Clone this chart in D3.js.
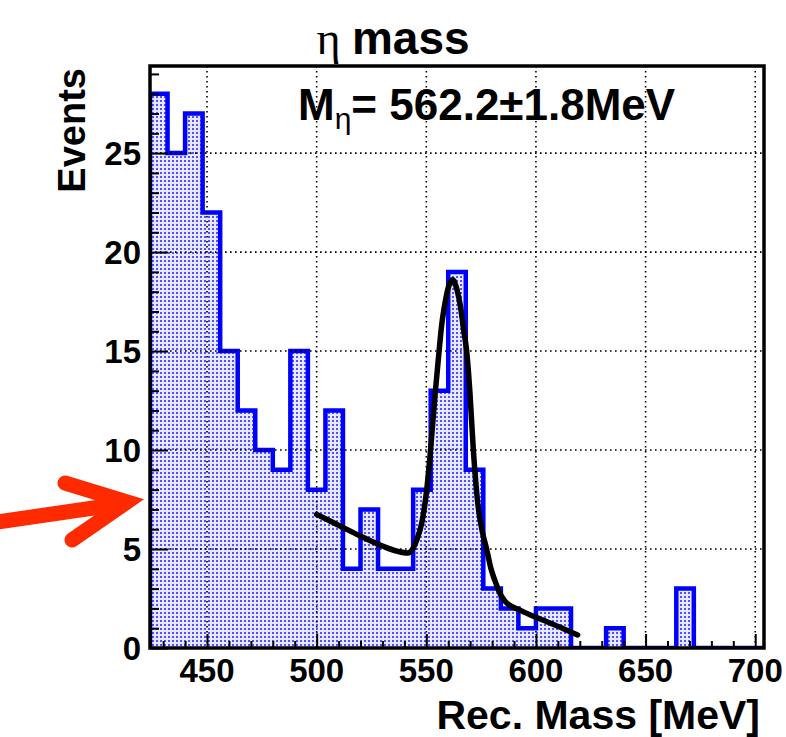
<!DOCTYPE html>
<html>
<head>
<meta charset="utf-8">
<script src="https://cdn.jsdelivr.net/npm/d3@7"></script>
<style>
  html, body { margin: 0; padding: 0; background: #ffffff; }
  svg { display: block; }
  text { font-family: "Liberation Sans", Arial, Helvetica, sans-serif; }
</style>
</head>
<body>
<svg id="chart" width="786" height="737"></svg>
<script>
// Reconstructed invariant mass spectrum: 8 MeV bins from 424 to 704 MeV
const massRange = [424, 704];
const binWidth = 8;
const binCounts = [28, 25, 27, 22, 15, 12, 10, 9, 15, 8, 12, 4, 7, 4, 4, 8, 13, 19, 9, 3,
                   2, 1, 2, 2, 0, 0, 1, 0, 0, 0, 3, 0, 0, 0, 0];

// Fitted peak + background curve (mass in MeV, events)
const fitMass   = [500, 510, 520, 530, 537, 541.5, 544, 545.6, 547.9, 550.2, 551.7, 554, 555.5, 557, 558.5,
                   560, 562, 564, 565.5, 567, 568.4, 569.9, 571.4, 573.7, 575.5, 577.5, 579.5, 581.3, 583.6,
                   586, 593, 600, 605, 612, 619];
const fitEvents = [6.75, 6.2, 5.65, 5.15, 4.88, 4.8, 5.05, 5.45, 6.3, 8.0, 9.7, 12.8, 14.6, 16.3, 17.4,
                   18.2, 18.6, 18.1, 17.3, 16.1, 15.0, 12.9, 10.1, 7.1, 5.9, 5.0, 4.0, 3.4, 2.75,
                   2.35, 1.9, 1.55, 1.33, 1.0, 0.66];

const xMajorTicks = [450, 500, 550, 600, 650, 700];
const yMajorTicks = [0, 5, 10, 15, 20, 25];
const yMax = 29.4;

const titleText = "mass";
const xTitle = "Rec. Mass [MeV]";
const yTitle = "Events";
const fitLabelParts = { main: "M", sub: "η", rest: "= 562.2±1.8MeV" };

const svg = d3.select("#chart");

const frame = { left: 150, right: 764, top: 66, bottom: 648 };
const x = d3.scaleLinear().domain(massRange).range([frame.left, frame.right]);
const y = d3.scaleLinear().domain([0, yMax]).range([frame.bottom, frame.top]);

// dotted-fill pattern for the histogram body
const defs = svg.append("defs");
const pat = defs.append("pattern")
  .attr("id", "dots").attr("patternUnits", "userSpaceOnUse")
  .attr("width", 4).attr("height", 4);
pat.append("rect").attr("width", 4).attr("height", 4).attr("fill", "#e8e8ff");
pat.append("rect").attr("x", 0).attr("y", 0).attr("width", 2).attr("height", 2).attr("fill", "#5050ff");

defs.append("clipPath").attr("id", "frameClip")
  .append("rect")
  .attr("x", frame.left).attr("y", frame.top)
  .attr("width", frame.right - frame.left).attr("height", frame.bottom - frame.top);

// histogram bins
const bins = binCounts.map((c, i) => ({ x0: massRange[0] + i * binWidth, x1: massRange[0] + (i + 1) * binWidth, n: c }));

// step outline path
let pts = [[bins[0].x0, 0]];
bins.forEach(b => { pts.push([b.x0, b.n]); pts.push([b.x1, b.n]); });
pts.push([bins[bins.length - 1].x1, 0]);

const stepLine = d3.line().x(d => x(d[0])).y(d => y(d[1]));

const plot = svg.append("g").attr("clip-path", "url(#frameClip)");

plot.append("path")
  .attr("d", stepLine(pts) + "Z")
  .attr("fill", "url(#dots)")
  .attr("stroke", "none");

// grid (dotted)
const grid = svg.append("g");
grid.selectAll("line.gx").data(xMajorTicks).join("line")
  .attr("x1", d => x(d)).attr("x2", d => x(d))
  .attr("y1", frame.top).attr("y2", frame.bottom)
  .attr("stroke", "#000").attr("stroke-width", 1.6).attr("stroke-dasharray", "1.6,3.4");
grid.selectAll("line.gy").data(yMajorTicks.filter(v => v > 0)).join("line")
  .attr("x1", frame.left).attr("x2", frame.right)
  .attr("y1", d => y(d)).attr("y2", d => y(d))
  .attr("stroke", "#000").attr("stroke-width", 1.6).attr("stroke-dasharray", "1.6,3.4");

// histogram outline
plot.append("path")
  .attr("d", stepLine(pts))
  .attr("fill", "none")
  .attr("stroke", "#0000ff")
  .attr("stroke-width", 4.5)
  .attr("stroke-linejoin", "miter");

// fit curve
const fitPts = fitMass.map((m, i) => [m, fitEvents[i]]);
svg.append("path")
  .attr("d", d3.line().x(d => x(d[0])).y(d => y(d[1])).curve(d3.curveMonotoneX)(fitPts))
  .attr("fill", "none")
  .attr("stroke", "#000")
  .attr("stroke-width", 5.5)
  .attr("stroke-linecap", "round")
  .attr("stroke-linejoin", "round");

// axes with inward ticks (ROOT style)
const xAxis = d3.axisBottom(x)
  .tickValues(d3.range(430, 705, 10))
  .tickSize(0).tickFormat("");
const xAx = svg.append("g").attr("transform", `translate(0,${frame.bottom})`).call(xAxis);
xAx.select(".domain").remove();
xAx.selectAll(".tick line")
  .attr("y2", d => xMajorTicks.includes(d) ? -14 : -7)
  .attr("stroke", "#000").attr("stroke-width", 2);

const yAxis = d3.axisLeft(y)
  .tickValues(d3.range(0, 30, 1))
  .tickSize(0).tickFormat("");
const yAx = svg.append("g").attr("transform", `translate(${frame.left},0)`).call(yAxis);
yAx.select(".domain").remove();
yAx.selectAll(".tick line")
  .attr("x2", d => yMajorTicks.includes(d) ? 18 : 9)
  .attr("stroke", "#000").attr("stroke-width", 2);

// tick labels
svg.append("g").selectAll("text").data(xMajorTicks).join("text")
  .attr("x", d => x(d)).attr("y", 682)
  .attr("text-anchor", "middle")
  .attr("font-size", 33).attr("font-weight", "bold")
  .text(d => d);

svg.append("g").selectAll("text").data(yMajorTicks).join("text")
  .attr("x", 141).attr("y", d => y(d)).attr("dy", "0.36em")
  .attr("text-anchor", "end")
  .attr("font-size", 33).attr("font-weight", "bold")
  .text(d => d);

// frame
svg.append("rect")
  .attr("x", frame.left).attr("y", frame.top)
  .attr("width", frame.right - frame.left).attr("height", frame.bottom - frame.top)
  .attr("fill", "none").attr("stroke", "#000").attr("stroke-width", 3.5);

// axis titles
svg.append("text")
  .attr("x", 760).attr("y", 729)
  .attr("text-anchor", "end")
  .attr("font-size", 41).attr("font-weight", "bold")
  .text(xTitle);

svg.append("text")
  .attr("transform", `translate(85,${frame.top + 2}) rotate(-90)`)
  .attr("text-anchor", "end")
  .attr("font-size", 38).attr("font-weight", "bold")
  .text(yTitle);

// chart title
const title = svg.append("text")
  .attr("x", 393).attr("y", 54)
  .attr("text-anchor", "middle");
title.append("tspan")
  .attr("font-family", "'Liberation Serif', 'DejaVu Serif', serif")
  .attr("font-size", 46)
  .text("η ");
title.append("tspan")
  .attr("font-size", 46).attr("font-weight", "bold")
  .text(titleText);

// fit result label
const lbl = svg.append("text")
  .attr("x", 298).attr("y", 120)
  .attr("font-size", 44).attr("font-weight", "bold");
lbl.append("tspan").text(fitLabelParts.main);
lbl.append("tspan").attr("font-size", 30).attr("font-weight", "normal").attr("dy", 9).text(fitLabelParts.sub);
lbl.append("tspan").attr("dy", -9).text(fitLabelParts.rest);

// red arrow pointing at the axis
const arrowTip = [133, 502];
const arrow = svg.append("g")
  .attr("fill", "none").attr("stroke", "#ff2a00")
  .attr("stroke-width", 15).attr("stroke-linecap", "round");
arrow.append("line")
  .attr("x1", -10).attr("y1", 523).attr("x2", arrowTip[0] - 12).attr("y2", arrowTip[1] + 2);
arrow.append("path")
  .attr("d", `M65,483 L${arrowTip[0] - 6},${arrowTip[1]} L72,540`)
  .attr("stroke-linejoin", "miter");
</script>
</body>
</html>
